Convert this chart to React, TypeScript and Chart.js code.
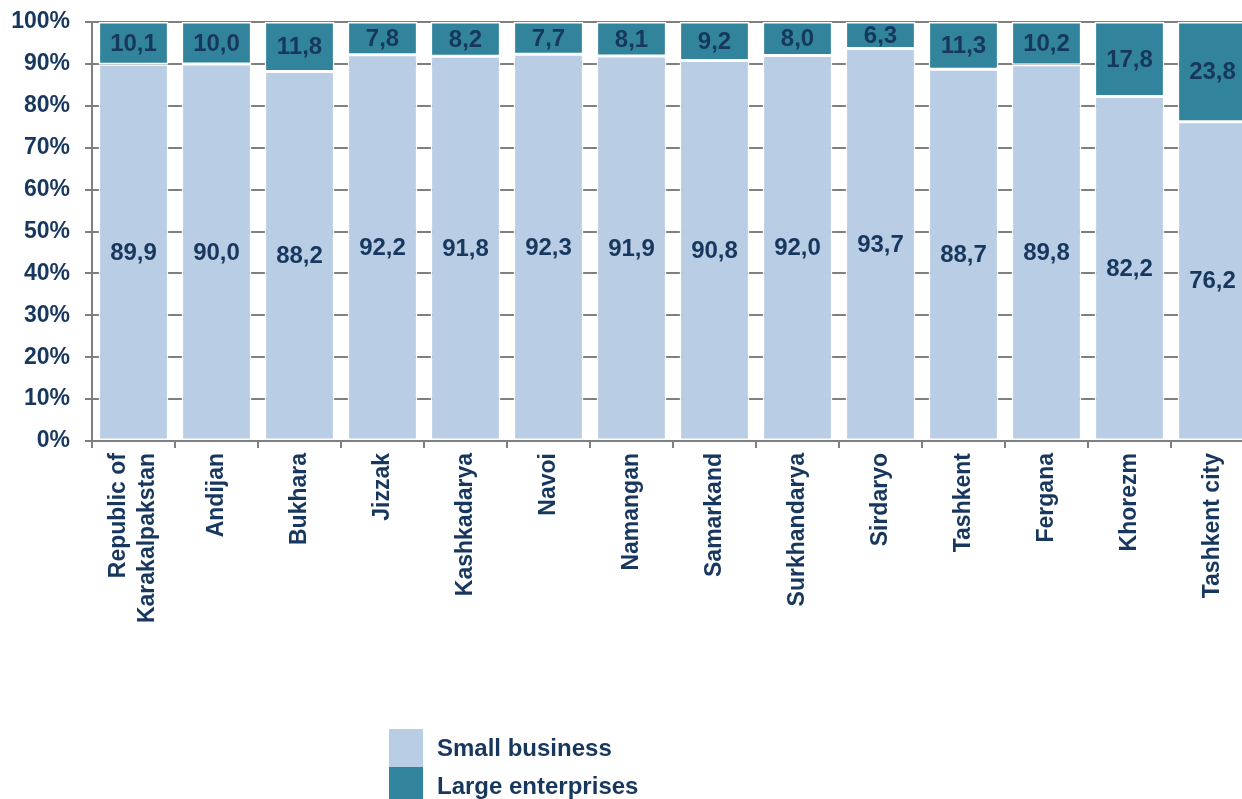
import React, { useEffect, useRef } from "react";
import { Chart, registerables } from "chart.js";

Chart.register(...registerables);

const categories: (string | string[])[] = [
  ["Republic of", "Karakalpakstan"],
  "Andijan",
  "Bukhara",
  "Jizzak",
  "Kashkadarya",
  "Navoi",
  "Namangan",
  "Samarkand",
  "Surkhandarya",
  "Sirdaryo",
  "Tashkent",
  "Fergana",
  "Khorezm",
  "Tashkent city",
];
const smallBusiness = [89.9, 90.0, 88.2, 92.2, 91.8, 92.3, 91.9, 90.8, 92.0, 93.7, 88.7, 89.8, 82.2, 76.2];
const largeEnterprises = [10.1, 10.0, 11.8, 7.8, 8.2, 7.7, 8.1, 9.2, 8.0, 6.3, 11.3, 10.2, 17.8, 23.8];
const seriesNames = ["Small business", "Large enterprises"];
const yTicks = [0, 10, 20, 30, 40, 50, 60, 70, 80, 90, 100];

const TEXT = "#17375E";
const FONT = "'Liberation Sans', Arial, sans-serif";
const C_SMALL = "#B9CDE5";
const C_LARGE = "#31849B";
const GRID = "#7F7F7F";

const valueLabels = {
  id: "valueLabels",
  afterDatasetsDraw(chart: any) {
    const ctx = chart.ctx;
    ctx.save();
    ctx.font = `bold 24px ${FONT}`;
    ctx.fillStyle = TEXT;
    ctx.textAlign = "center";
    ctx.textBaseline = "middle";
    chart.data.datasets.forEach((ds: any, i: number) => {
      const meta = chart.getDatasetMeta(i);
      meta.data.forEach((el: any, j: number) => {
        const v = ds.data[j];
        const cy = (el.y + el.base) / 2;
        ctx.fillText(v.toFixed(1).replace(".", ","), el.x, cy + 1);
      });
    });
    ctx.restore();
  },
};

// centre multi-line rotated labels on their tick
const centreMultiline = {
  id: "centreMultiline",
  beforeDraw(chart: any) {
    const sx = chart.scales.x;
    const items = sx.getLabelItems();
    items.forEach((it: any) => {
      if (Array.isArray(it.label) && it.label.length > 1 && !it._centred) {
        const lh = 23 * 1.25;
        it.options.translation[0] -= (lh * (it.label.length - 1)) / 2;
        it._centred = true;
      }
    });
  },
};

const customLegend = {
  id: "customLegend",
  afterDraw(chart: any) {
    const ctx = chart.ctx;
    ctx.save();
    const x0 = 389;
    const y0 = 729;
    const w = 34;
    const h = 38;
    ctx.font = `bold 24px ${FONT}`;
    ctx.textBaseline = "middle";
    ctx.textAlign = "left";
    chart.data.datasets.forEach((ds: any, i: number) => {
      ctx.fillStyle = ds.backgroundColor;
      ctx.fillRect(x0, y0 + i * h, w, h);
      ctx.fillStyle = TEXT;
      ctx.fillText(ds.label, 437, y0 + i * h + h / 2 + 1);
    });
    ctx.restore();
  },
};

export default function App() {
  const ref = useRef<HTMLCanvasElement>(null);
  useEffect(() => {
    if (!ref.current) return;
    const chart = new Chart(ref.current, {
      type: "bar",
      data: {
        labels: categories,
        datasets: [
          {
            label: seriesNames[0],
            data: smallBusiness,
            backgroundColor: C_SMALL,
            borderColor: "#FFFFFF",
            borderWidth: 1.5,
            borderSkipped: false,
            barPercentage: 0.84,
            categoryPercentage: 1,
          },
          {
            label: seriesNames[1],
            data: largeEnterprises,
            backgroundColor: C_LARGE,
            borderColor: "#FFFFFF",
            borderWidth: 1.5,
            borderSkipped: false,
            barPercentage: 0.84,
            categoryPercentage: 1,
          },
        ],
      },
      options: {
        responsive: false,
        animation: false,
        devicePixelRatio: 1,
        layout: { padding: { top: 22, left: 0, right: 0, bottom: 0 } },
        plugins: {
          legend: { display: false },
          tooltip: { enabled: false },
        },
        scales: {
          x: {
            stacked: true,
            grid: {
              drawOnChartArea: false,
              drawTicks: true,
              tickLength: 7,
              color: GRID,
              lineWidth: 2,
              offset: true,
            },
            border: { color: GRID, width: 2 },
            ticks: {
              minRotation: 90,
              maxRotation: 90,
              autoSkip: false,
              padding: 5,
              color: TEXT,
              font: { family: FONT, size: 23, weight: "bold", lineHeight: 1.25 },
            },
            afterFit: (s: any) => {
              s.height = 358;
              s.paddingLeft = 0;
              s.paddingRight = 0;
            },
          },
          y: {
            stacked: true,
            min: 0,
            max: 100,
            afterBuildTicks: (s: any) => {
              s.ticks = yTicks.map((v) => ({ value: v }));
            },
            grid: {
              color: GRID,
              lineWidth: 2,
              tickLength: 7,
              drawTicks: true,
            },
            border: { color: GRID, width: 2 },
            ticks: {
              padding: 15,
              color: TEXT,
              font: { family: FONT, size: 23, weight: "bold" },
              callback: (v: any) => `${v}%`,
            },
            afterFit: (s: any) => {
              s.width = 92;
              s.paddingTop = 0;
              s.paddingBottom = 0;
            },
          },
        },
      },
      plugins: [centreMultiline, valueLabels, customLegend],
    });
    return () => chart.destroy();
  }, []);
  return (
    <div style={{ width: 1242, height: 799, overflow: "hidden", position: "relative" }}>
      <style>{`html,body{margin:0;padding:0;overflow:hidden;background:#fff}`}</style>
      <canvas ref={ref} width={1254} height={799} style={{ display: "block", width: 1254, height: 799 }} />
    </div>
  );
}
